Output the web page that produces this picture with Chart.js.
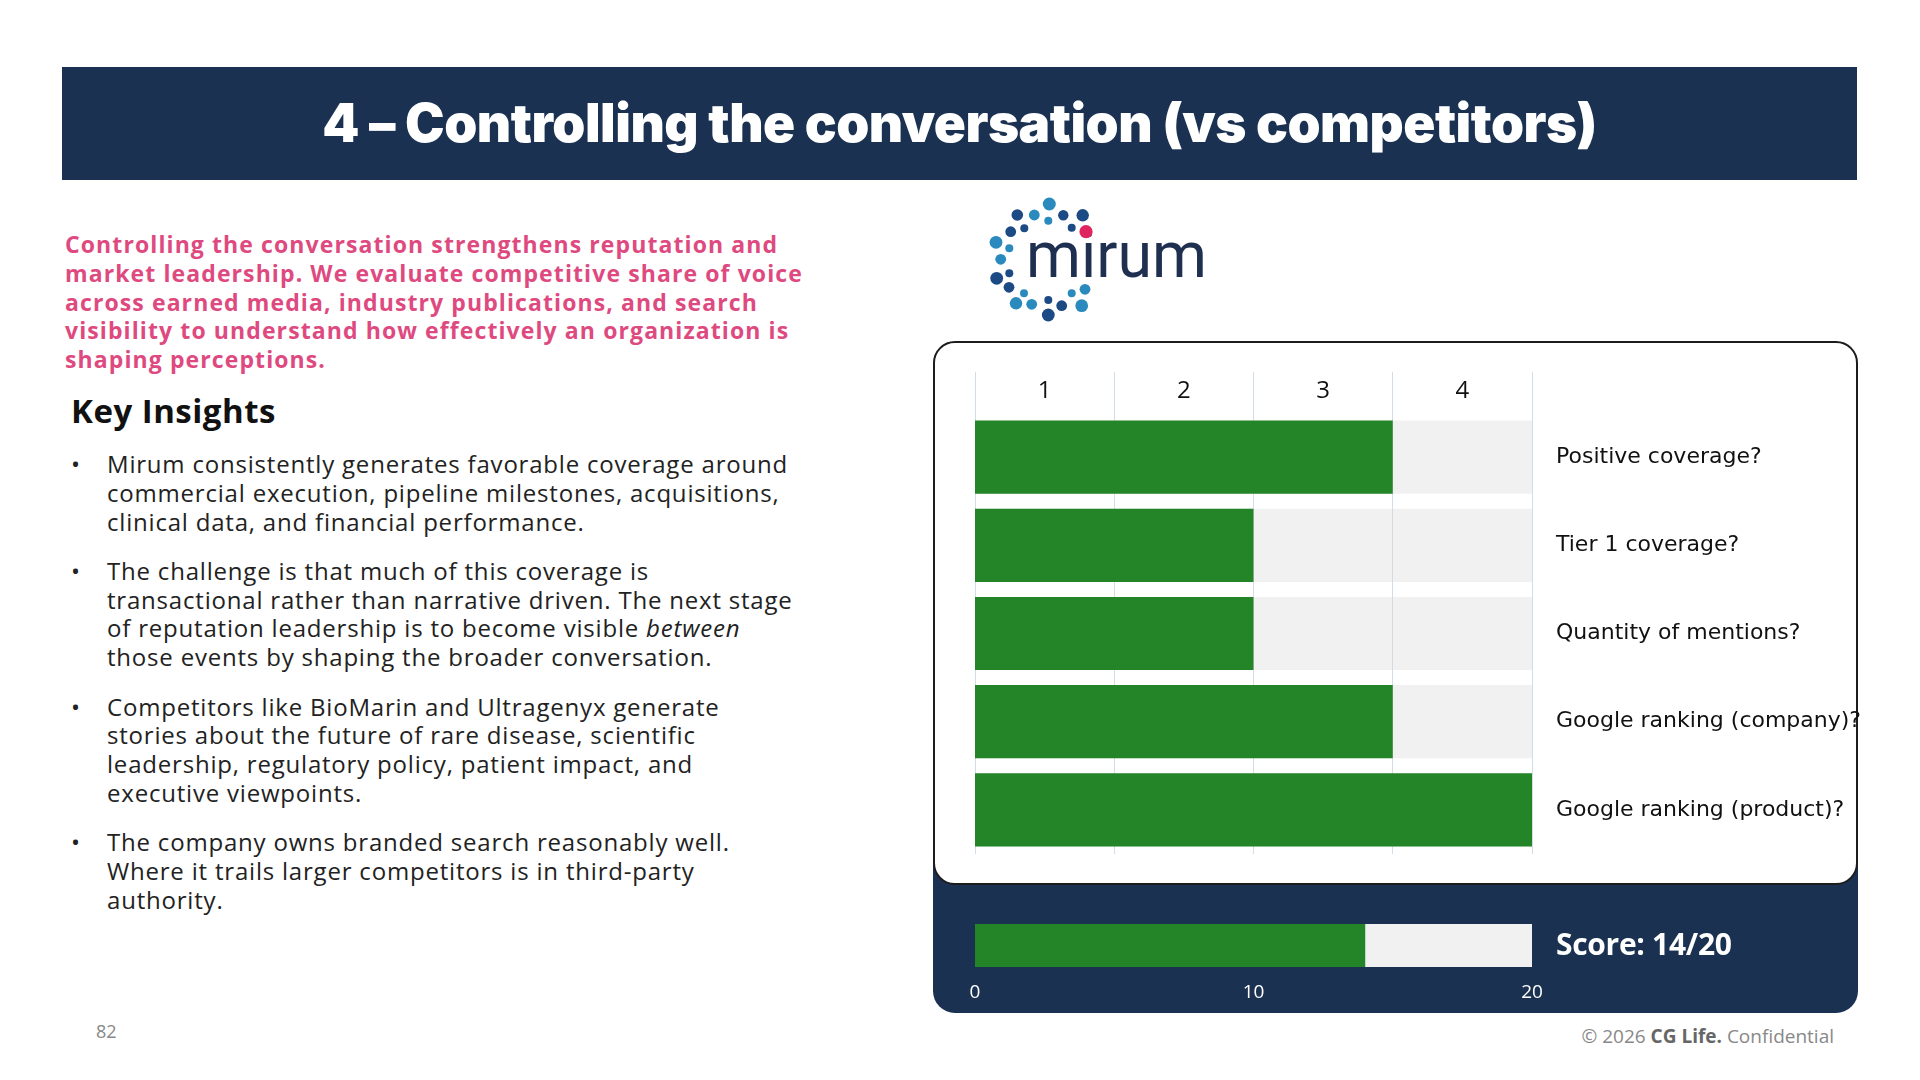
<!DOCTYPE html>
<html>
<head>
<meta charset="utf-8">
<title>Controlling the conversation</title>
<script src="https://cdn.jsdelivr.net/npm/chart.js@4.4.1/dist/chart.umd.min.js"></script>
<style>
  html, body { margin: 0; padding: 0; background: #fff; }
  body { width: 1920px; height: 1080px; position: relative; overflow: hidden; font-family: "Open Sans", sans-serif; }
  .band { position: absolute; left: 62px; top: 67px; width: 1795px; height: 113px; background: #1b3151; }
  .band h1 { margin: 0; color: #fff; font-family: Inter, sans-serif; font-weight: 900; font-size: 53px; line-height: 113px; text-align: center; letter-spacing: -0.5px; }
  .lead { position: absolute; left: 65px; top: 230px; color: #de4a80; font-weight: 700; font-size: 23px; line-height: 28.8px; letter-spacing: 1.1px; }
  .kicker { position: absolute; left: 71px; top: 392px; font-weight: 700; font-size: 33px; line-height: 38px; color: #111; letter-spacing: 0.5px; }
  ul.insights { position: absolute; left: 75px; top: 450px; margin: 0; padding: 0; list-style: none; width: 800px; }
  ul.insights li { position: relative; padding-left: 32px; font-size: 24px; line-height: 28.8px; color: #222; margin-bottom: 20.5px; letter-spacing: 0.8px; }
  ul.insights li::before { content: "•"; position: absolute; left: -4px; top: 0; }
  .navy { position: absolute; left: 933px; top: 700px; width: 925px; height: 313px; background: #1b3151; border-radius: 22px; }
  .card { position: absolute; left: 933px; top: 341px; width: 921px; height: 540px; background: #fff; border: 2px solid #1c1c1c; border-radius: 22px; }
  #mainChart { position: absolute; left: 940px; top: 345px; }
  #scoreChart { position: absolute; left: 940px; top: 914px; }
  .score { position: absolute; left: 1556px; top: 925px; color: #fff; font-weight: 700; font-size: 30px; line-height: 38px; letter-spacing: -0.3px; }
  .page { position: absolute; left: 96px; top: 1019px; color: #888; font-size: 18px; }
  .copy { position: absolute; right: 86px; top: 1023px; color: #888; font-size: 19px; }
  .copy b { color: #666; }
  .logo { position: absolute; left: 980px; top: 190px; }
</style>
</head>
<body>
<div class="band"><h1>4 – Controlling the conversation (vs competitors)</h1></div>

<div class="lead">Controlling the conversation strengthens reputation and<br>market leadership. We evaluate competitive share of voice<br>across earned media, industry publications, and search<br>visibility to understand how effectively an organization is<br>shaping perceptions.</div>

<div class="kicker">Key Insights</div>
<ul class="insights">
  <li>Mirum consistently generates favorable coverage around<br>commercial execution, pipeline milestones, acquisitions,<br>clinical data, and financial performance.</li>
  <li>The challenge is that much of this coverage is<br>transactional rather than narrative driven. The next stage<br>of reputation leadership is to become visible <em>between</em><br>those events by shaping the broader conversation.</li>
  <li>Competitors like BioMarin and Ultragenyx generate<br>stories about the future of rare disease, scientific<br>leadership, regulatory policy, patient impact, and<br>executive viewpoints.</li>
  <li>The company owns branded search reasonably well.<br>Where it trails larger competitors is in third-party<br>authority.</li>
</ul>

<svg class="logo" width="240" height="140" viewBox="0 0 240 140" id="logo"></svg>

<div class="navy"></div>
<div class="card"></div>
<canvas id="mainChart" width="960" height="520"></canvas>
<canvas id="scoreChart" width="620" height="100"></canvas>
<div class="score" id="scoreText"></div>

<div class="page">82</div>
<div class="copy">© 2026 <b>CG Life.</b> Confidential</div>

<script>
// rubric data
const criteria = ['Positive coverage?', 'Tier 1 coverage?', 'Quantity of mentions?', 'Google ranking (company)?', 'Google ranking (product)?'];
const criteriaScores = [3, 2, 2, 3, 4];
const criteriaMax = [4, 4, 4, 4, 4];
const columnLabels = ['1', '2', '3', '4'];

const totalScore = [14];
const totalMax = [20];
const totalTicks = [0, 10, 20];

const GREEN = '#238527';

// logo dots: x, y, r, colour
const T = '#2a8abd', N = '#1b4a84', P = '#e0245e';
const logoDots = [
  [69.3, 14, 6.5, T], [37.3, 25, 5.8, N], [54.3, 25, 5.4, T], [83.3, 25.3, 5.2, N], [102.7, 25.3, 6.2, N],
  [30.7, 41.7, 5.4, N], [16, 52.3, 6.4, T], [20.7, 69.3, 5.4, T], [16.7, 88.3, 6.4, N], [29, 97.3, 5.4, N],
  [36, 113.3, 6.2, T], [51.7, 114.3, 5.4, T], [68.3, 125, 6.4, N], [81.7, 115.7, 5.4, N], [101.7, 115.7, 6.4, T],
  [105, 99.3, 5.4, T],
  [68.3, 30.7, 4, T], [44.3, 38.3, 4, N], [91.7, 37.7, 4, N], [29.3, 58.3, 4, T], [29.3, 83.3, 4, N],
  [44, 103.3, 4, T], [68.3, 110, 4, N], [91.7, 103.3, 4, T]
];

const logo = document.getElementById('logo');
let svg = '<text x="46" y="87" font-family="Roboto" font-weight="400" font-size="64" fill="#1f2f4f" textLength="181" lengthAdjust="spacingAndGlyphs">mirum</text>';
logoDots.forEach(d => {
  svg += `<circle cx="${d[0]}" cy="${d[1]}" r="${d[2]}" fill="${d[3]}"/>`;
});
svg += `<circle cx="106" cy="41.7" r="6.6" fill="${P}"/>`;
logo.innerHTML = svg;

Chart.defaults.font.family = '"Open Sans", sans-serif';
Chart.defaults.animation = false;

new Chart(document.getElementById('mainChart'), {
  type: 'bar',
  data: {
    labels: criteria,
    datasets: [
      { data: criteriaScores, backgroundColor: GREEN, xAxisID: 'x', grouped: false, order: 0 },
      { data: criteriaMax, backgroundColor: 'rgba(212,212,212,0.32)', xAxisID: 'x', grouped: false, order: 1 }
    ]
  },
  options: {
    indexAxis: 'y',
    responsive: false,
    layout: { padding: { left: 35, top: 27, right: 0, bottom: 11 } },
    barPercentage: 1,
    categoryPercentage: 0.83,
    plugins: { legend: { display: false }, tooltip: { enabled: false } },
    scales: {
      x: { type: 'linear', min: 0, max: 4, display: false },
      x2: {
        type: 'category',
        labels: columnLabels,
        position: 'top',
        offset: true,
        grid: { offset: true, color: '#d3dde8', lineWidth: 1, tickLength: 41, drawTicks: true },
        border: { display: false },
        ticks: { color: '#111', font: { size: 24 }, padding: -34 },
        afterFit: scale => { scale.height = 41; }
      },
      y: {
        position: 'right',
        grid: { display: false, drawTicks: false },
        border: { display: false },
        ticks: { color: '#111', font: { family: '"DejaVu Sans", sans-serif', size: 22 }, padding: 24 },
        afterFit: scale => {
          scale.width = 368;
          scale.paddingTop = 0;
          scale.paddingBottom = 0;
        }
      }
    }
  }
});

new Chart(document.getElementById('scoreChart'), {
  type: 'bar',
  data: {
    labels: ['Score'],
    datasets: [
      { data: totalScore, backgroundColor: GREEN, grouped: false, order: 0 },
      { data: totalMax, backgroundColor: '#f1f1f1', grouped: false, order: 1 }
    ]
  },
  options: {
    indexAxis: 'y',
    responsive: false,
    layout: { padding: { left: 35, top: 10, right: 28, bottom: 0 } },
    barPercentage: 1,
    categoryPercentage: 1,
    plugins: { legend: { display: false }, tooltip: { enabled: false } },
    scales: {
      x: {
        type: 'linear', min: 0, max: 20,
        afterBuildTicks: scale => { scale.ticks = totalTicks.map(v => ({ value: v })); },
        grid: { display: false, drawTicks: false },
        border: { display: false },
        ticks: { color: '#fff', font: { size: 19 }, padding: 14 },
        afterFit: scale => { scale.height = 47; }
      },
      y: { display: false }
    }
  }
});

document.getElementById('scoreText').textContent = `Score: ${totalScore[0]}/${totalMax[0]}`;
</script>
</body>
</html>
